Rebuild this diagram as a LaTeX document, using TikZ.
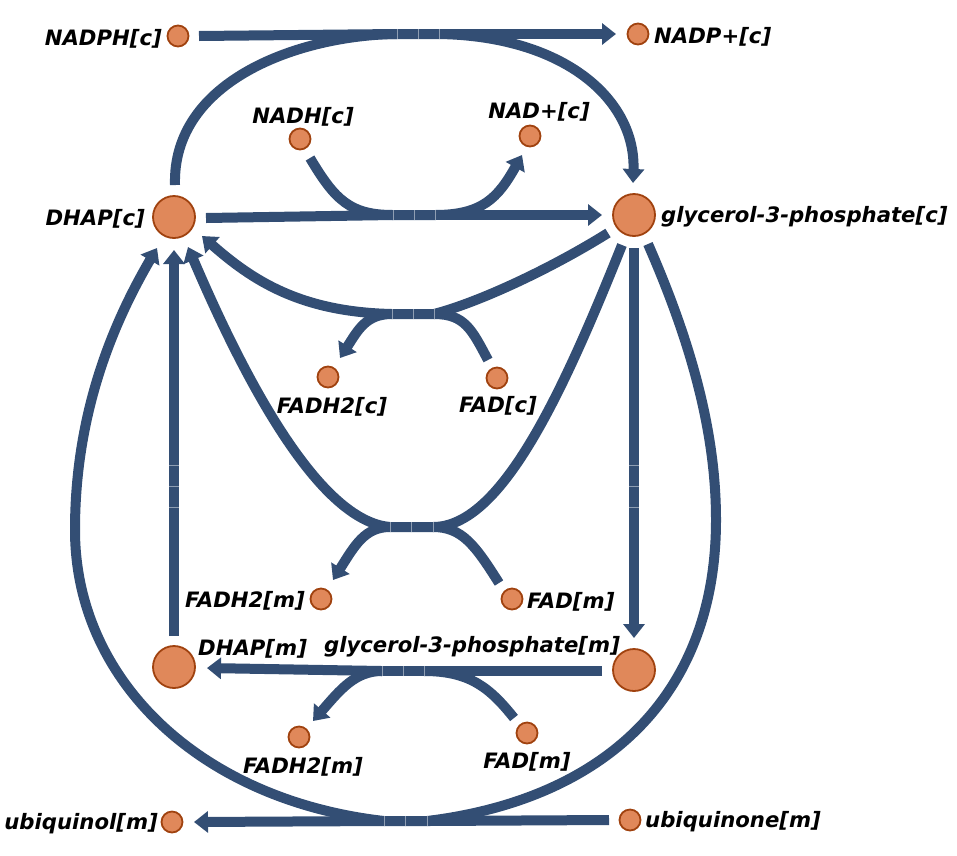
\documentclass[tikz,border=0pt]{standalone}
\usepackage{fontspec}
\setmainfont{DejaVu Sans}
\usetikzlibrary{arrows.meta}
\definecolor{rx}{HTML}{334E74}
\definecolor{mfill}{HTML}{E0885A}
\definecolor{mdraw}{HTML}{A0420F}
\tikzset{
  rxn/.style={draw=rx, line width=10pt},
  arr/.style={-{Triangle[width=21pt,length=14pt]}},
  met/.style={circle, fill=mfill, draw=mdraw, line width=1.8pt, minimum size=21pt, inner sep=0pt},
  bigmet/.style={met, minimum size=42pt},
  lbl/.style={font=\fontsize{21.2}{23}\selectfont\bfseries\itshape, inner sep=0pt, text=black, yshift=-2pt},
  sepl/.style={draw=rx!55!white, line width=0.7pt}
}
\begin{document}
\begin{tikzpicture}[x=1pt,y=-1pt]
\useasboundingbox (0,0) rectangle (957,855);

% metabolites
\node[met] (nadphc) at (178,36) {};
\node[met] (nadpc) at (638,34) {};
\node[met] (nadhc) at (300,139) {};
\node[met] (nadc) at (530,136) {};
\node[bigmet] (dhapc) at (174,217) {};
\node[bigmet] (g3pc) at (634,215) {};
\node[met] (fadh2c) at (328,377) {};
\node[met] (fadc) at (497,378) {};
\node[met] (fadh2ma) at (321,599) {};
\node[met] (fadma) at (512,599) {};
\node[bigmet] (dhapm) at (174,667) {};
\node[bigmet] (g3pm) at (634,670) {};
\node[met] (fadh2mb) at (299,737) {};
\node[met] (fadmb) at (527,733) {};
\node[met] (qh2m) at (172,822) {};
\node[met] (qm) at (630,820) {};

% labels
\node[lbl, anchor=east] (l1) at (162,37) {NADPH[c]};
\node[lbl, anchor=west] (l2) at (654,35) {NADP+[c]};
\node[lbl] (l3) at (303,115) {NADH[c]};
\node[lbl] (l4) at (539,110) {NAD+[c]};
\node[lbl, anchor=east] (l5) at (145,217) {DHAP[c]};
\node[lbl, anchor=west] (l6) at (661,215) {glycerol-3-phosphate[c]};
\node[lbl] (l7) at (332,405) {FADH2[c]};
\node[lbl] (l8) at (498,404) {FAD[c]};
\node[lbl, anchor=east] (l9) at (305,599) {FADH2[m]};
\node[lbl, anchor=west] (l10) at (527,600) {FAD[m]};
\node[lbl, anchor=west] (l11) at (198,647) {DHAP[m]};
\node[lbl] (l12) at (472,645) {glycerol-3-phosphate[m]};
\node[lbl] (l13) at (303,765) {FADH2[m]};
\node[lbl] (l14) at (527,760) {FAD[m]};
\node[lbl, anchor=east] (l15) at (158,822) {ubiquinol[m]};
\node[lbl, anchor=west] (l16) at (645,820) {ubiquinone[m]};

% reaction mid segments
\coordinate (r1a) at (397,34);  \coordinate (r1m) at (418,34);  \coordinate (r1b) at (439,34);
\coordinate (r2a) at (393,215); \coordinate (r2m) at (414,215); \coordinate (r2b) at (435,215);
\coordinate (r3a) at (392,314); \coordinate (r3m) at (413,314); \coordinate (r3b) at (434,314);
\coordinate (r4a) at (390,527); \coordinate (r4m) at (411,527); \coordinate (r4b) at (433,527);
\coordinate (r5a) at (174,507); \coordinate (r5m) at (174,486); \coordinate (r5b) at (174,465);
\coordinate (r6a) at (634,465); \coordinate (r6m) at (634,486); \coordinate (r6b) at (634,507);
\coordinate (r7a) at (424,671); \coordinate (r7m) at (403,671); \coordinate (r7b) at (382,671);
\coordinate (r8a) at (427,821); \coordinate (r8m) at (405,821); \coordinate (r8b) at (384,821);

% connector ends
\coordinate (e1s) at (199,36);  \coordinate (e1t) at (616,34);
\coordinate (e1d) at (175,185); \coordinate (e1g) at (633,183);
\coordinate (e2s) at (206,218); \coordinate (e2t) at (602,215);
\coordinate (e2n) at (310,158); \coordinate (e2p) at (522,155);
\coordinate (e3s) at (608,233); \coordinate (e3t) at (202,236);
\coordinate (e3f) at (488,360); \coordinate (e3h) at (340,358);
\coordinate (e4s) at (622,245); \coordinate (e4t) at (188,247);
\coordinate (e4f) at (499,583); \coordinate (e4h) at (333,580);
\coordinate (e5s) at (174,636); \coordinate (e5t) at (174,250);
\coordinate (e6s) at (634,248); \coordinate (e6t) at (634,638);
\coordinate (e7s) at (602,671); \coordinate (e7t) at (207,668);
\coordinate (e7f) at (514,718); \coordinate (e7h) at (313,721);
\coordinate (e8s) at (609,820); \coordinate (e8t) at (194,822);
\coordinate (e8g) at (648,244); \coordinate (e8d) at (157,248);

% R1
\draw[rxn] (e1s) -- (r1a) -- (r1b);
\draw[rxn, arr] (r1b) -- (e1t);
\draw[rxn] (e1d) .. controls (172,80) and (300,35) .. (r1a);
\draw[rxn, arr] (r1b) .. controls (565,36) and (636,100) .. (e1g);
% R2
\draw[rxn] (e2s) -- (r2a) -- (r2b);
\draw[rxn, arr] (r2b) -- (e2t);
\draw[rxn] (e2n) .. controls (335,200) and (350,215) .. (r2a);
\draw[rxn, arr] (r2b) .. controls (482,215) and (498,198) .. (e2p);
% R3
\draw[rxn] (e3s) .. controls (552,268) and (480,302) .. (r3b) -- (r3a);
\draw[rxn, arr] (r3a) .. controls (300,312) and (252,280) .. (e3t);
\draw[rxn] (e3f) .. controls (472,330) and (465,314) .. (r3b);
\draw[rxn, arr] (r3a) .. controls (366,314) and (358,330) .. (e3h);
% R4
\draw[rxn] (e4s) .. controls (560,400) and (500,527) .. (r4b) -- (r4a);
\draw[rxn, arr] (r4a) .. controls (330,522) and (262,420) .. (e4t);
\draw[rxn] (e4f) .. controls (475,545) and (462,527) .. (r4b);
\draw[rxn, arr] (r4a) .. controls (365,527) and (355,545) .. (e4h);
% R5, R6
\draw[rxn] (e5s) -- (r5a) -- (r5b);
\draw[rxn, arr] (r5b) -- (e5t);
\draw[rxn] (e6s) -- (r6a) -- (r6b);
\draw[rxn, arr] (r6b) -- (e6t);
% R7
\draw[rxn] (e7s) -- (r7a) -- (r7b);
\draw[rxn, arr] (r7b) -- (e7t);
\draw[rxn] (e7f) .. controls (490,688) and (470,671) .. (r7a);
\draw[rxn, arr] (r7b) .. controls (355,671) and (340,690) .. (e7h);
% R8
\draw[rxn] (e8s) -- (r8a) -- (r8b);
\draw[rxn, arr] (r8b) -- (e8t);
\draw[rxn] (e8g) .. controls (690,340) and (716,430) .. (716,520) .. controls (716,700) and (600,800) .. (r8a);
\draw[rxn, arr] (r8b) .. controls (200,800) and (75,680) .. (75,530) .. controls (75,410) and (115,320) .. (e8d);

% segment separators
\foreach \c in {r1a,r1m,r1b,r2a,r2m,r2b,r3a,r3m,r3b,r4a,r4m,r4b,r7a,r7m,r7b,r8a,r8m,r8b}
  \draw[sepl] ([yshift=-5pt]\c) -- ([yshift=5pt]\c);
\foreach \c in {r5a,r5m,r5b,r6a,r6m,r6b}
  \draw[sepl] ([xshift=-5pt]\c) -- ([xshift=5pt]\c);
\end{tikzpicture}
\end{document}
